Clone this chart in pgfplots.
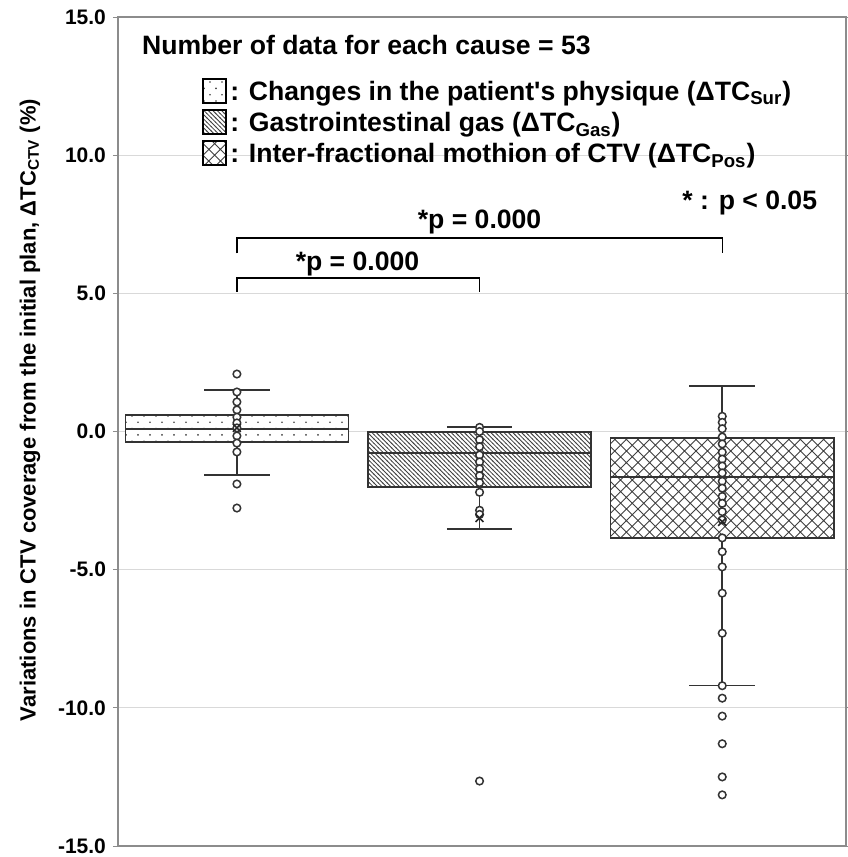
\documentclass[border=0pt]{standalone}
\usepackage{fontspec}
\setmainfont{Liberation Sans}
\usepackage{pgfplots}
\pgfplotsset{compat=1.18}
\usepgfplotslibrary{statistics}
\usetikzlibrary{patterns}

% fill patterns of the three boxes
\pgfdeclarepatternformonly{sparsedots}{\pgfqpoint{-1pt}{-1pt}}{\pgfqpoint{7pt}{7.3pt}}{\pgfqpoint{6pt}{6.3pt}}{%
  \pgfpathcircle{\pgfqpoint{0pt}{0pt}}{0.45pt}%
  \pgfpathcircle{\pgfqpoint{3pt}{3.15pt}}{0.45pt}%
  \pgfusepath{fill}}
\pgfdeclarepatternformonly{nwlines}{\pgfqpoint{-0.5pt}{-0.5pt}}{\pgfqpoint{2.7pt}{2.7pt}}{\pgfqpoint{2.2pt}{2.2pt}}{%
  \pgfsetlinewidth{0.4pt}%
  \pgfpathmoveto{\pgfqpoint{-0.2pt}{2.4pt}}\pgfpathlineto{\pgfqpoint{2.4pt}{-0.2pt}}%
  \pgfusepath{stroke}}
\pgfdeclarepatternformonly{xhatch}{\pgfqpoint{-0.5pt}{-0.5pt}}{\pgfqpoint{6.3pt}{6.3pt}}{\pgfqpoint{5.8pt}{5.8pt}}{%
  \pgfsetlinewidth{0.45pt}%
  \pgfpathmoveto{\pgfqpoint{-0.2pt}{-0.2pt}}\pgfpathlineto{\pgfqpoint{6pt}{6pt}}%
  \pgfpathmoveto{\pgfqpoint{-0.2pt}{6pt}}\pgfpathlineto{\pgfqpoint{6pt}{-0.2pt}}%
  \pgfusepath{stroke}}

\newcommand{\annfont}{\bfseries\fontsize{13.3}{15}\selectfont}

\begin{document}
\begin{tikzpicture}
\useasboundingbox (-59pt,-5.5pt) rectangle (364.5pt,423pt);
\begin{axis}[
  width=364pt, height=414.5pt, scale only axis,
  xmin=0.51, xmax=3.51, ymin=-15, ymax=15,
  boxplot/draw direction=y,
  xtick=\empty,
  ytick={-15,-10,-5,0,5,10,15},
  yticklabels={-15.0,-10.0,-5.0,0.0,5.0,10.0,15.0},
  y tick label style={font=\bfseries\fontsize{10.5}{12}\selectfont},
  tick align=outside, major tick length=2.5pt,
  tick style={black!45, line width=0.5pt},
  axis line style={black!45, line width=0.6pt},
  ymajorgrids, grid style={black!15, line width=0.6pt},
  ylabel={Variations in CTV coverage from the initial plan, ΔTC\textsubscript{CTV} (\%)},
  ylabel style={font=\bfseries\fontsize{11}{13}\selectfont,
    at={(axis description cs:-0.121,0.526)}, anchor=center},
  clip=false,
]

% boxes
\addplot[draw=black!80, line width=0.75pt, boxplot prepared={draw position=1,
  median=0.09, lower quartile=-0.38, upper quartile=0.6,
  lower whisker=-1.57, upper whisker=1.5, box extend=0.92, whisker extend=0.27,
  every box/.style={preaction={fill=white}, pattern=sparsedots, pattern color=black!75}}]
  coordinates {};
\addplot[draw=black!80, line width=0.75pt, boxplot prepared={draw position=2,
  median=-0.78, lower quartile=-2.0, upper quartile=-0.02,
  lower whisker=-3.53, upper whisker=0.16, box extend=0.92, whisker extend=0.27,
  every box/.style={preaction={fill=white}, pattern=nwlines, pattern color=black!75}}]
  coordinates {};
\addplot[draw=black!80, line width=0.75pt, boxplot prepared={draw position=3,
  median=-1.65, lower quartile=-3.85, upper quartile=-0.24,
  lower whisker=-9.2, upper whisker=1.65, box extend=0.92, whisker extend=0.27,
  every box/.style={preaction={fill=white}, pattern=xhatch, pattern color=black!75}}]
  coordinates {};

% individual values
\addplot[only marks, mark=*, mark size=1.9pt,
  mark options={fill=white, draw=black!80, line width=0.75pt}] coordinates {
  (1,2.08) (1,1.43) (1,1.07) (1,0.78) (1,0.52) (1,0.31) (1,0.13) (1,-0.16)
  (1,-0.42) (1,-0.74) (1,-1.9) (1,-2.77)
  (2,0.15) (2,0.0) (2,-0.3) (2,-0.55) (2,-0.85) (2,-1.1) (2,-1.35) (2,-1.6)
  (2,-1.85) (2,-2.2) (2,-2.85) (2,-3.0) (2,-12.65)
  (3,0.55) (3,0.33) (3,0.1) (3,-0.2) (3,-0.45) (3,-0.75) (3,-1.0) (3,-1.25)
  (3,-1.5) (3,-1.8) (3,-2.05) (3,-2.35) (3,-2.6) (3,-2.9) (3,-3.2) (3,-3.85)
  (3,-4.35) (3,-4.9) (3,-5.85) (3,-7.3) (3,-9.2) (3,-9.65) (3,-10.3)
  (3,-11.3) (3,-12.5) (3,-13.15)
};
% means
\addplot[only marks, mark=x, mark size=2.8pt,
  mark options={draw=black!85, line width=0.8pt}] coordinates {
  (1,0.13) (2,-3.13) (3,-3.27)
};

% significance brackets
\draw[black, line width=0.7pt] (axis cs:1,6.45) -- (axis cs:1,7.0) -- (axis cs:3,7.0) -- (axis cs:3,6.45);
\draw[black, line width=0.7pt] (axis cs:1,5.05) -- (axis cs:1,5.55) -- (axis cs:2,5.55) -- (axis cs:2,5.05);
\node[font=\annfont, anchor=base] at (axis cs:2.0,7.36) {*p = 0.000};
\node[font=\annfont, anchor=base] at (axis cs:1.497,5.84) {*p = 0.000};
\node[font=\annfont, anchor=base east] at (axis cs:3.42,8.02) {* : p < 0.05};

% header and legend
\node[font=\annfont, anchor=base west] at (axis cs:0.58,13.66) {Number of data for each cause = 53};
\node[draw=black, line width=1pt, preaction={fill=white}, pattern=sparsedots, pattern color=black!75,
  minimum width=11.5pt, minimum height=12pt, inner sep=0pt] at (axis cs:0.909,12.32) {};
\node[draw=black, line width=1pt, preaction={fill=white}, pattern=nwlines, pattern color=black!75,
  minimum width=11.5pt, minimum height=12pt, inner sep=0pt] at (axis cs:0.909,11.2) {};
\node[draw=black, line width=1pt, preaction={fill=white}, pattern=xhatch, pattern color=black!75,
  minimum width=11.5pt, minimum height=12pt, inner sep=0pt] at (axis cs:0.909,10.08) {};
\node[font=\annfont, anchor=base west, inner sep=0pt] at (axis cs:0.971,11.98)
  {: Changes in the patient\textquotesingle s physique (ΔTC\textsubscript{Sur})};
\node[font=\annfont, anchor=base west, inner sep=0pt] at (axis cs:0.971,10.84)
  {: Gastrointestinal gas (ΔTC\textsubscript{Gas})};
\node[font=\annfont, anchor=base west, inner sep=0pt] at (axis cs:0.971,9.72)
  {: Inter-fractional mothion of CTV (ΔTC\textsubscript{Pos})};
\end{axis}
\end{tikzpicture}
\end{document}
